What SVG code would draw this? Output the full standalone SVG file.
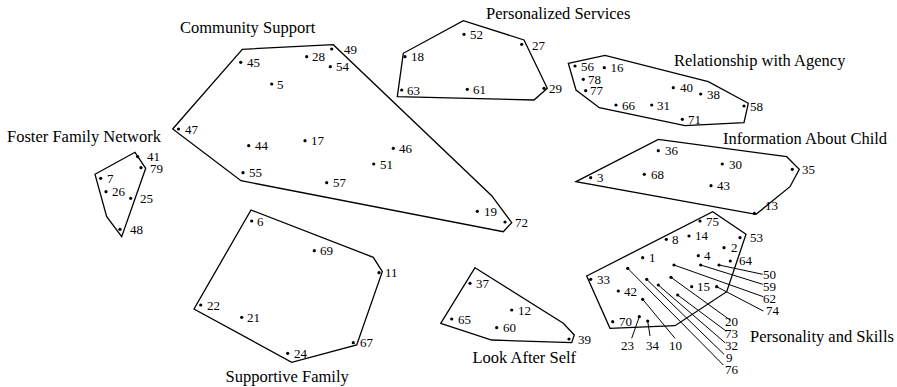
<svg xmlns="http://www.w3.org/2000/svg" width="897" height="387" viewBox="0 0 897 387">
<style>
.hull{fill:none;stroke:#000;stroke-width:1.3;stroke-linejoin:miter}
.d{fill:#000}
.n{font-family:"Liberation Serif","Times New Roman",serif;font-size:13px;fill:#000}
.t{font-family:"Liberation Serif","Times New Roman",serif;font-size:16.5px;fill:#000}
.lead{stroke:#000;stroke-width:1}
</style>
<rect width="897" height="387" fill="#fff"/>

<g id="foster-family-network">
<polygon class="hull" points="95,174.3 135,152.3 145.7,168.3 121.7,236.7 106.7,216.7"/>
<circle class="d" cx="137.7" cy="156.7" r="1.6"/><text class="n" x="147" y="160.5">41</text>
<circle class="d" cx="141" cy="167.7" r="1.6"/><text class="n" x="150" y="172.5">79</text>
<circle class="d" cx="100.7" cy="178.3" r="1.6"/><text class="n" x="107" y="182.5">7</text>
<circle class="d" cx="106" cy="191.7" r="1.6"/><text class="n" x="112" y="196">26</text>
<circle class="d" cx="130.7" cy="198.3" r="1.6"/><text class="n" x="140" y="203">25</text>
<circle class="d" cx="120" cy="229.3" r="1.6"/><text class="n" x="130" y="234">48</text>
<text class="t" x="7" y="142">Foster Family Network</text>
</g>

<g id="community-support">
<polygon class="hull" points="242.3,49.3 333.3,44.7 491.7,195.7 511.7,222.7 503.3,231.7 241,180.7 172.7,129"/>
<circle class="d" cx="240.7" cy="62.3" r="1.6"/><text class="n" x="247" y="66.5">45</text>
<circle class="d" cx="306.7" cy="56.7" r="1.6"/><text class="n" x="312" y="61">28</text>
<circle class="d" cx="331.7" cy="49" r="1.6"/><text class="n" x="344" y="53.5">49</text>
<circle class="d" cx="330.3" cy="66.7" r="1.6"/><text class="n" x="336" y="71">54</text>
<circle class="d" cx="271.7" cy="84" r="1.6"/><text class="n" x="277" y="88.5">5</text>
<circle class="d" cx="178.5" cy="129" r="1.6"/><text class="n" x="185" y="133.5">47</text>
<circle class="d" cx="248.7" cy="145.7" r="1.6"/><text class="n" x="255" y="150">44</text>
<circle class="d" cx="305" cy="140.7" r="1.6"/><text class="n" x="311" y="145">17</text>
<circle class="d" cx="393.3" cy="148.3" r="1.6"/><text class="n" x="399" y="152.5">46</text>
<circle class="d" cx="373.7" cy="164" r="1.6"/><text class="n" x="380" y="168.5">51</text>
<circle class="d" cx="243" cy="172.7" r="1.6"/><text class="n" x="249" y="177">55</text>
<circle class="d" cx="326.7" cy="182.7" r="1.6"/><text class="n" x="333" y="187">57</text>
<circle class="d" cx="477.3" cy="211.3" r="1.6"/><text class="n" x="484" y="216">19</text>
<circle class="d" cx="505" cy="222" r="1.6"/><text class="n" x="515" y="226.5">72</text>
<text class="t" x="180" y="33">Community Support</text>
</g>

<g id="personalized-services">
<polygon class="hull" points="397.3,96.7 403.3,53.3 463.3,20.7 524,40 547.3,88.3 534,100"/>
<circle class="d" cx="464" cy="34.3" r="1.6"/><text class="n" x="470" y="38.5">52</text>
<circle class="d" cx="521.7" cy="44.3" r="1.6"/><text class="n" x="532" y="50">27</text>
<circle class="d" cx="405" cy="56.7" r="1.6"/><text class="n" x="411" y="61">18</text>
<circle class="d" cx="401.7" cy="90" r="1.6"/><text class="n" x="407" y="94.5">63</text>
<circle class="d" cx="467.3" cy="89.3" r="1.6"/><text class="n" x="473" y="93.5">61</text>
<circle class="d" cx="544" cy="88.3" r="1.6"/><text class="n" x="549" y="93">29</text>
<text class="t" x="486" y="19">Personalized Services</text>
</g>

<g id="relationship-with-agency">
<polygon class="hull" points="568.3,63.3 605,55.3 708.3,81.7 748.3,103.3 744,122.7 685,125.7 599.3,107.7 576,90"/>
<circle class="d" cx="575" cy="66" r="1.6"/><text class="n" x="581" y="70.5">56</text>
<circle class="d" cx="604.3" cy="67.7" r="1.6"/><text class="n" x="610.5" y="72">16</text>
<circle class="d" cx="583.3" cy="79.3" r="1.6"/><text class="n" x="588" y="83.5">78</text>
<circle class="d" cx="585.7" cy="90.7" r="1.6"/><text class="n" x="590" y="95">77</text>
<circle class="d" cx="673.3" cy="87.7" r="1.6"/><text class="n" x="680" y="92">40</text>
<circle class="d" cx="700.7" cy="94" r="1.6"/><text class="n" x="707" y="99">38</text>
<circle class="d" cx="744" cy="106" r="1.6"/><text class="n" x="750" y="111">58</text>
<circle class="d" cx="616" cy="105" r="1.6"/><text class="n" x="622" y="109.5">66</text>
<circle class="d" cx="651.7" cy="105" r="1.6"/><text class="n" x="657" y="109.5">31</text>
<circle class="d" cx="682.3" cy="119.3" r="1.6"/><text class="n" x="688" y="124">71</text>
<text class="t" x="674" y="66">Relationship with Agency</text>
</g>

<g id="information-about-child">
<polygon class="hull" points="576,181.7 658.3,139.3 786.7,156.7 799.3,169.3 790,186.7 756,214.3"/>
<circle class="d" cx="658.3" cy="150.7" r="1.6"/><text class="n" x="665" y="155">36</text>
<circle class="d" cx="590.7" cy="177.7" r="1.6"/><text class="n" x="597" y="182">3</text>
<circle class="d" cx="644.3" cy="174.3" r="1.6"/><text class="n" x="651" y="179">68</text>
<circle class="d" cx="722.3" cy="164" r="1.6"/><text class="n" x="729" y="168.5">30</text>
<circle class="d" cx="711" cy="185.7" r="1.6"/><text class="n" x="717" y="190">43</text>
<circle class="d" cx="792.3" cy="169.3" r="1.6"/><text class="n" x="802" y="174">35</text>
<circle class="d" cx="754.3" cy="213.3" r="1.6"/><text class="n" x="765" y="210">13</text>
<text class="t" x="723" y="144">Information About Child</text>
</g>

<g id="personality-and-skills">
<polygon class="hull" points="586.7,276 712.7,211.7 746,234.3 726.7,291.7 675,325.7 610,328.3"/>
<circle class="d" cx="700" cy="221" r="1.6"/><text class="n" x="706" y="225.5">75</text>
<circle class="d" cx="666.3" cy="239.3" r="1.6"/><text class="n" x="672" y="244">8</text>
<circle class="d" cx="689" cy="236" r="1.6"/><text class="n" x="695" y="240">14</text>
<circle class="d" cx="740" cy="237.7" r="1.6"/><text class="n" x="750" y="242">53</text>
<circle class="d" cx="724" cy="247.7" r="1.6"/><text class="n" x="731" y="252">2</text>
<circle class="d" cx="698.3" cy="255.7" r="1.6"/><text class="n" x="704" y="260">4</text>
<circle class="d" cx="730.3" cy="261" r="1.6"/><text class="n" x="739" y="265">64</text>
<circle class="d" cx="642.7" cy="257.7" r="1.6"/><text class="n" x="649" y="262">1</text>
<circle class="d" cx="590.7" cy="279.3" r="1.6"/><text class="n" x="597" y="284">33</text>
<circle class="d" cx="618.3" cy="291" r="1.6"/><text class="n" x="624" y="296">42</text>
<circle class="d" cx="691.7" cy="286.7" r="1.6"/><text class="n" x="697" y="291">15</text>
<circle class="d" cx="612.7" cy="321.7" r="1.6"/><text class="n" x="619" y="326">70</text>
<circle class="d" cx="719" cy="265" r="1.6"/><text class="n" x="763" y="279">50</text>
<circle class="d" cx="700.7" cy="265" r="1.6"/><text class="n" x="763" y="291">59</text>
<circle class="d" cx="674" cy="265" r="1.6"/><text class="n" x="763" y="303">62</text>
<circle class="d" cx="716.7" cy="286.7" r="1.6"/><text class="n" x="766" y="315">74</text>
<circle class="d" cx="671" cy="277.3" r="1.6"/><text class="n" x="725" y="326">20</text>
<circle class="d" cx="677.7" cy="295" r="1.6"/><text class="n" x="725" y="338">73</text>
<circle class="d" cx="658.3" cy="285" r="1.6"/><text class="n" x="725" y="350">32</text>
<circle class="d" cx="646.7" cy="279.3" r="1.6"/><text class="n" x="726" y="362">9</text>
<circle class="d" cx="627.7" cy="268.3" r="1.6"/><text class="n" x="725" y="374">76</text>
<circle class="d" cx="642.7" cy="299.3" r="1.6"/><text class="n" x="669" y="350">10</text>
<circle class="d" cx="639.3" cy="316.7" r="1.6"/><text class="n" x="621" y="350">23</text>
<circle class="d" cx="647.7" cy="321" r="1.6"/><text class="n" x="646" y="350">34</text>
<text class="t" x="750" y="342">Personality and Skills</text>
</g>

<g id="supportive-family">
<polygon class="hull" points="251,210 373.3,257.3 382.3,271.7 356.7,345 291.7,362.3 194,309"/>
<circle class="d" cx="251.7" cy="221" r="1.6"/><text class="n" x="257" y="225.5">6</text>
<circle class="d" cx="314.3" cy="250.7" r="1.6"/><text class="n" x="320" y="255">69</text>
<circle class="d" cx="379" cy="272.7" r="1.6"/><text class="n" x="385" y="277">11</text>
<circle class="d" cx="200.7" cy="305" r="1.6"/><text class="n" x="207" y="309.5">22</text>
<circle class="d" cx="241.7" cy="317.3" r="1.6"/><text class="n" x="247" y="322">21</text>
<circle class="d" cx="353.3" cy="342.7" r="1.6"/><text class="n" x="360" y="347">67</text>
<circle class="d" cx="287.7" cy="353.3" r="1.6"/><text class="n" x="294" y="358">24</text>
<text class="t" x="225.5" y="381.5">Supportive Family</text>
</g>

<g id="look-after-self">
<polygon class="hull" points="475,267.7 563.3,323.3 574.3,335 571.7,342.7 491.7,340 440.7,323.3"/>
<circle class="d" cx="470" cy="283.3" r="1.6"/><text class="n" x="476" y="288">37</text>
<circle class="d" cx="511.7" cy="310" r="1.6"/><text class="n" x="518" y="315">12</text>
<circle class="d" cx="451.7" cy="319" r="1.6"/><text class="n" x="458" y="323.5">65</text>
<circle class="d" cx="496.7" cy="327.7" r="1.6"/><text class="n" x="503" y="332">60</text>
<circle class="d" cx="569" cy="339" r="1.6"/><text class="n" x="578" y="344">39</text>
<text class="t" x="472.5" y="363">Look After Self</text>
</g>

<g id="connectors">
<line class="lead" x1="719" y1="265" x2="762.7" y2="274.3"/>
<line class="lead" x1="700.7" y1="265" x2="762.7" y2="284.3"/>
<line class="lead" x1="674" y1="265" x2="763.3" y2="296.7"/>
<line class="lead" x1="716.7" y1="286.7" x2="763.3" y2="311"/>
<line class="lead" x1="671" y1="277.3" x2="730" y2="320"/>
<line class="lead" x1="677.7" y1="295" x2="726" y2="331"/>
<line class="lead" x1="658.3" y1="285" x2="725" y2="342.7"/>
<line class="lead" x1="646.7" y1="279.3" x2="724" y2="354.3"/>
<line class="lead" x1="627.7" y1="268.3" x2="723.3" y2="365"/>
<line class="lead" x1="642.7" y1="299.3" x2="675" y2="338.3"/>
<line class="lead" x1="639.3" y1="316.7" x2="631.7" y2="338.3"/>
<line class="lead" x1="647.7" y1="321" x2="650" y2="336"/>
</g>
</svg>
